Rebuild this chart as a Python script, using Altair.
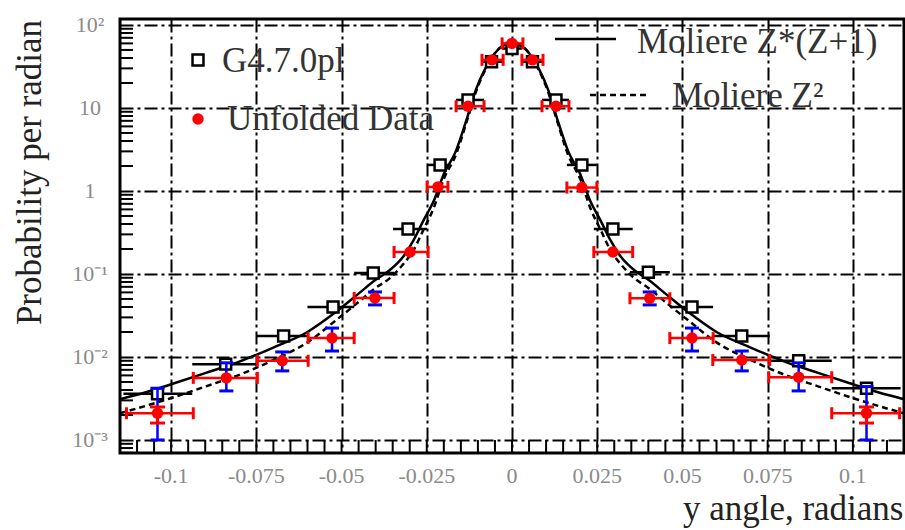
import altair as alt
import pandas as pd

# ---------------- data ----------------
# Unfolded data (red points, horizontal bin error bars)
data_x = [-0.104, -0.0838, -0.0674, -0.0528, -0.0402, -0.0299, -0.0217, -0.0129, -0.0059, 0.0,
          0.006, 0.0129, 0.0205, 0.0296, 0.0404, 0.0528, 0.0674, 0.0841, 0.104]
data_y = [0.0021, 0.0056, 0.0090, 0.0169, 0.0514, 0.184, 1.12, 10.5, 38, 60,
          38, 10.5, 1.1, 0.184, 0.051, 0.0169, 0.0092, 0.0057, 0.0021]
data_xlo = [-0.1131, -0.0935, -0.0747, -0.0598, -0.0463, -0.0346, -0.0249, -0.0164, -0.0088, -0.0029,
            0.0029, 0.0088, 0.0161, 0.0240, 0.0346, 0.0463, 0.0589, 0.0753, 0.0938]
data_xhi = [-0.0935, -0.0747, -0.0598, -0.0463, -0.0346, -0.0246, -0.0188, -0.0082, -0.0026, 0.0032,
            0.0091, 0.0167, 0.0249, 0.0354, 0.0463, 0.0590, 0.0756, 0.0938, 0.1137]

# statistical (red) vertical errors, visible on the outermost points
stat_x = [-0.104, 0.104]
stat_lo = [0.0016, 0.0016]
stat_hi = [0.0025, 0.0025]

# systematic (blue) vertical errors
sys_x = [-0.104, -0.0838, -0.0674, -0.0528, -0.0402, 0.0404, 0.0528, 0.0674, 0.0841, 0.104]
sys_lo = [0.0010, 0.0039, 0.0068, 0.0118, 0.0424, 0.0424, 0.0118, 0.0068, 0.0039, 0.0010]
sys_hi = [0.0042, 0.0085, 0.0115, 0.0223, 0.0607, 0.0607, 0.0223, 0.0118, 0.0085, 0.0044]

# G4.7.0pl simulation (open squares)
g4_x = [-0.104, -0.084, -0.067, -0.0525, -0.0407, -0.0305, -0.0211, -0.0129, -0.006, 0.0,
        0.006, 0.0129, 0.0205, 0.0296, 0.040, 0.0528, 0.0674, 0.0841, 0.104]
g4_y = [0.0036, 0.0082, 0.0179, 0.040, 0.103, 0.348, 2.06, 12.5, 36, 52,
        36, 12.5, 2.06, 0.348, 0.105, 0.040, 0.0179, 0.0090, 0.0042]
g4_xlo = [-0.1140, -0.0938, -0.0750, -0.0600, -0.0463, -0.0349, -0.0249, -0.0164, -0.0088, -0.0029,
          0.0029, 0.0088, 0.0161, 0.0240, 0.0346, 0.0463, 0.0589, 0.0753, 0.0938]
g4_xhi = [-0.0938, -0.0750, -0.0600, -0.0463, -0.0346, -0.0249, -0.0188, -0.0082, -0.0029, 0.0029,
          0.0088, 0.0167, 0.0249, 0.0354, 0.0463, 0.0590, 0.0756, 0.0938, 0.1140]

# Moliere curves (read on the positive side; the curves are symmetric)
curve_x = [0.0, 0.003, 0.006, 0.008, 0.0105, 0.013, 0.0165, 0.020, 0.023, 0.026, 0.029, 0.032,
           0.036, 0.040, 0.045, 0.052, 0.060, 0.070, 0.080, 0.090, 0.100, 0.110, 0.115]
curve_zz1 = [60, 55, 40, 29, 17, 8.0, 3.0, 1.6, 0.75, 0.44, 0.25, 0.16,
             0.11, 0.085, 0.058, 0.034, 0.020, 0.0130, 0.0088, 0.0064, 0.0047, 0.0035, 0.0031]
curve_z2 = [60, 55, 40, 28, 16, 7.5, 2.7, 1.4, 0.62, 0.34, 0.19, 0.13,
            0.088, 0.068, 0.046, 0.027, 0.0150, 0.0092, 0.0061, 0.0044, 0.0032, 0.0024, 0.0021]

# axes
x_ticks = [-0.1, -0.075, -0.05, -0.025, 0.0, 0.025, 0.05, 0.075, 0.1]
x_tick_labels = ["-0.1", "-0.075", "-0.05", "-0.025", "0", "0.025", "0.05", "0.075", "0.1"]
x_minor = [round(-0.11 + 0.005 * i, 4) for i in range(45)]
y_ticks = [0.001, 0.01, 0.1, 1, 10, 100]
y_tick_labels = ["10\u207b\u00b3", "10\u207b\u00b2", "10\u207b\u00b9", "1", "10", "10\u00b2"]
y_minor = [m * 10.0 ** e for e in range(-4, 2) for m in range(2, 10)
           if 0.000697 <= m * 10.0 ** e <= 118]

legend_labels = ["G4.7.0pl", "Unfolded Data", "Moliere Z*(Z+1)", "Moliere Z\u00b2"]

# ---------------- chart ----------------
W, H = 784, 434
FONT = "Liberation Serif"
xs = alt.Scale(domain=[-0.115, 0.115], nice=False, zero=False)
ys = alt.Scale(type="log", domain=[0.000697, 118], nice=False)

grid_common = dict(grid=True, gridColor="black", gridWidth=2, gridDash=[13, 4, 3, 4],
                   gridOpacity=1, labels=False, ticks=False, domain=False,
                   titleFont=FONT, titleFontSize=35, titleFontWeight="normal", titleColor="#222")
ax_x = alt.Axis(values=x_ticks, title="y angle, radians", titleAlign="right", titleAnchor="end",
                titleX=W - 1, titleY=66, titleBaseline="alphabetic", **grid_common)
ax_y = alt.Axis(values=y_ticks, title="Probability per radian", titleAngle=270,
                titleAlign="center", titleX=-80, titleY=153, titleBaseline="alphabetic",
                **grid_common)


def X(f):
    return alt.X(f, type="quantitative", scale=xs, axis=ax_x)


def Y(f):
    return alt.Y(f, type="quantitative", scale=ys, axis=ax_y)


neg_x = [-v for v in reversed(curve_x[1:])]
df_c1 = pd.DataFrame({"x": neg_x + curve_x, "y": list(reversed(curve_zz1[1:])) + curve_zz1})
df_c2 = pd.DataFrame({"x": neg_x + curve_x, "y": list(reversed(curve_z2[1:])) + curve_z2})
df_data = pd.DataFrame({"x": data_x, "y": data_y, "xlo": data_xlo, "xhi": data_xhi})
df_stat = pd.DataFrame({"x": stat_x, "lo": stat_lo, "hi": stat_hi})
df_sys = pd.DataFrame({"x": sys_x, "lo": sys_lo, "hi": sys_hi})
df_g4 = pd.DataFrame({"x": g4_x, "y": g4_y, "xlo": g4_xlo, "xhi": g4_xhi})
df_xt = pd.DataFrame({"v": x_ticks, "lab": x_tick_labels})
df_yt = pd.DataFrame({"v": y_ticks, "lab": y_tick_labels})
df_xm = pd.DataFrame({"v": x_minor})
df_ym = pd.DataFrame({"v": y_minor})

layers = []

# minor ticks (inward)
layers.append(alt.Chart(df_xm).mark_rule(color="black", strokeWidth=2).encode(
    x=X("v"), y=alt.value(H), y2=alt.value(H - 13)))
layers.append(alt.Chart(df_ym).mark_rule(color="black", strokeWidth=2).encode(
    y=Y("v"), x=alt.value(0), x2=alt.value(13)))

# tick labels
layers.append(alt.Chart(df_xt).mark_text(font=FONT, fontSize=22, color="#8a8a8a",
                                         align="center", baseline="middle").encode(
    x=X("v"), y=alt.value(H + 23), text="lab:N"))
layers.append(alt.Chart(df_yt).mark_text(font=FONT, fontSize=22, color="#8a8a8a",
                                         align="center", baseline="middle").encode(
    y=Y("v"), x=alt.value(-30), text="lab:N"))

# Moliere curves
layers.append(alt.Chart(df_c1).mark_line(color="black", strokeWidth=2.5, interpolate="monotone").encode(
    x=X("x"), y=Y("y")))
layers.append(alt.Chart(df_c2).mark_line(color="black", strokeWidth=2.5, strokeDash=[6, 4],
                                         interpolate="monotone").encode(x=X("x"), y=Y("y")))

# G4 squares with horizontal bars
layers.append(alt.Chart(df_g4).mark_rule(color="black", strokeWidth=2.5).encode(
    x=X("xlo"), x2=alt.X2("xhi"), y=Y("y")))
layers.append(alt.Chart(df_g4).mark_square(filled=True, fill="white", stroke="black",
                                           strokeWidth=2.5, size=120, opacity=1).encode(
    x=X("x"), y=Y("y")))

# blue systematic bars
layers.append(alt.Chart(df_sys).mark_rule(color="blue", strokeWidth=2.5).encode(
    x=X("x"), y=Y("lo"), y2=alt.Y2("hi")))
for f in ["lo", "hi"]:
    layers.append(alt.Chart(df_sys).mark_tick(color="blue", orient="horizontal", size=14,
                                              thickness=3, opacity=1).encode(x=X("x"), y=Y(f)))

# red data: horizontal bars with caps, vertical stat bars, points
layers.append(alt.Chart(df_data).mark_rule(color="red", strokeWidth=2.5).encode(
    x=X("xlo"), x2=alt.X2("xhi"), y=Y("y")))
for f in ["xlo", "xhi"]:
    layers.append(alt.Chart(df_data).mark_tick(color="red", orient="vertical", size=12,
                                               thickness=3, opacity=1).encode(x=X(f), y=Y("y")))
layers.append(alt.Chart(df_stat).mark_rule(color="red", strokeWidth=3).encode(
    x=X("x"), y=Y("lo"), y2=alt.Y2("hi")))
for f in ["lo", "hi"]:
    layers.append(alt.Chart(df_stat).mark_tick(color="red", orient="horizontal", size=15,
                                               thickness=3, opacity=1).encode(x=X("x"), y=Y(f)))
layers.append(alt.Chart(df_data).mark_circle(color="red", size=130, opacity=1).encode(
    x=X("x"), y=Y("y")))

# legend (annotation)
one = pd.DataFrame({"lab": legend_labels})
lg = [
    (0, 102, 53), (1, 107, 111), (2, 517, 34), (3, 552, 88),
]
layers.append(alt.Chart(one.iloc[[0]]).mark_square(filled=True, fill="white", stroke="black",
                                                   strokeWidth=2.5, size=120, opacity=1).encode(
    x=alt.value(78), y=alt.value(41)))
layers.append(alt.Chart(one.iloc[[1]]).mark_circle(color="red", size=130, opacity=1).encode(
    x=alt.value(78), y=alt.value(100)))
layers.append(alt.Chart(one.iloc[[2]]).mark_rule(color="black", strokeWidth=2.5).encode(
    x=alt.value(435), x2=alt.value(496), y=alt.value(20)))
layers.append(alt.Chart(one.iloc[[3]]).mark_rule(color="black", strokeWidth=2.5, strokeDash=[6, 4]).encode(
    x=alt.value(470), x2=alt.value(529), y=alt.value(76)))
for i, tx, ty in lg:
    layers.append(alt.Chart(one.iloc[[i]]).mark_text(font=FONT, fontSize=35, color="#333",
                                                     align="left", baseline="alphabetic").encode(
        x=alt.value(tx), y=alt.value(ty), text="lab:N"))

chart = alt.layer(*layers).properties(
    width=W, height=H,
    padding={"left": 120, "top": 19, "right": 1, "bottom": 77},
    autosize=alt.AutoSizeParams(type="none"),
    background="white",
).configure_view(stroke="black", strokeWidth=3)

chart.save("out.html", embed_options={"renderer": "svg", "actions": False})
